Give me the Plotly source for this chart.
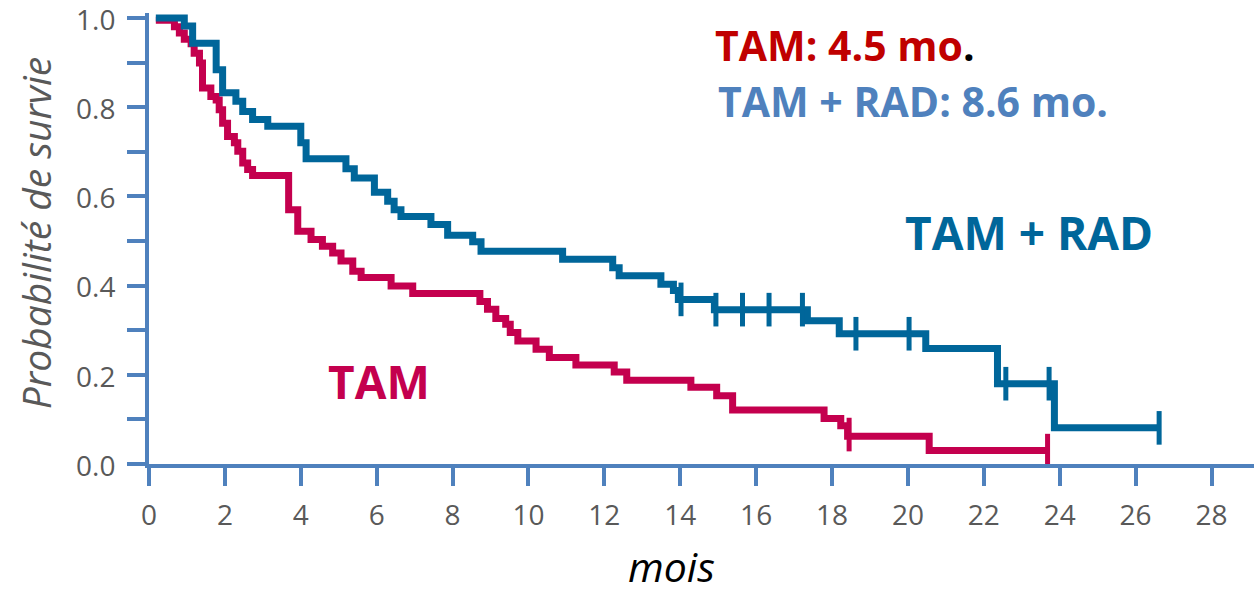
import plotly.graph_objects as go

# ---- data ----
tam_t = [0.18, 0.67, 0.80, 0.93, 1.11, 1.19, 1.33, 1.41, 1.63, 1.77, 1.85, 1.94, 2.07, 2.25, 2.34,
         2.47, 2.60, 2.73, 3.68, 3.92, 4.27, 4.57, 4.84, 5.06, 5.37, 5.59, 6.38, 6.95, 8.72, 8.92,
         9.14, 9.40, 9.52, 9.72, 10.20, 10.55, 11.25, 12.26, 12.59, 14.28, 14.96, 15.38, 17.79,
         18.23, 18.41, 20.56, 23.68]
tam_s = [0.995, 0.980, 0.966, 0.952, 0.942, 0.921, 0.899, 0.843, 0.824, 0.816, 0.794, 0.764, 0.734,
         0.720, 0.701, 0.675, 0.660, 0.647, 0.570, 0.522, 0.503, 0.488, 0.473, 0.455, 0.432, 0.418,
         0.399, 0.382, 0.364, 0.347, 0.326, 0.313, 0.295, 0.276, 0.257, 0.239, 0.222, 0.206, 0.188,
         0.172, 0.153, 0.121, 0.102, 0.086, 0.062, 0.030, 0.030]
tam_cens_t = [18.45, 23.68]
tam_cens_s = [0.066, 0.030]

rad_t = [0.18, 0.93, 1.15, 1.77, 1.94, 2.29, 2.47, 2.73, 3.13, 4.00, 4.14, 5.19, 5.41, 5.94, 6.29,
         6.46, 6.64, 7.43, 7.87, 8.53, 8.75, 10.90, 12.22, 12.39, 13.49, 13.82, 13.95, 14.90,
         17.35, 18.19, 20.47, 22.36, 23.86, 26.62]
rad_s = [1.000, 0.982, 0.943, 0.884, 0.832, 0.813, 0.790, 0.772, 0.757, 0.720, 0.684, 0.662, 0.641,
         0.609, 0.589, 0.570, 0.555, 0.537, 0.513, 0.498, 0.477, 0.459, 0.440, 0.422, 0.403, 0.389,
         0.369, 0.346, 0.321, 0.292, 0.259, 0.180, 0.081, 0.081]
rad_cens_t = [14.02, 14.94, 15.64, 16.34, 17.22, 18.63, 20.03, 22.58, 23.72, 26.62]
rad_cens_s = [0.369, 0.346, 0.346, 0.346, 0.346, 0.292, 0.292, 0.180, 0.180, 0.081]

x_ticks = list(range(0, 29, 2))
y_ticks = [0.0, 0.1, 0.2, 0.3, 0.4, 0.5, 0.6, 0.7, 0.8, 0.9, 1.0]
y_ticktext = ["0.0", "", "0.2", "", "0.4", "", "0.6", "", "0.8", "", "1.0"]

RED = "#c4004e"
BLUE = "#00669a"
AXIS = "#4f81bd"
GRAY = "#595959"
FONT = "Open Sans"

fig = go.Figure()
fig.add_trace(go.Scatter(x=tam_t, y=tam_s, mode="lines", line=dict(color=RED, width=7, shape="hv"),
                         showlegend=False, hoverinfo="skip"))
fig.add_trace(go.Scatter(x=rad_t, y=rad_s, mode="lines", line=dict(color=BLUE, width=7, shape="hv"),
                         showlegend=False, hoverinfo="skip"))
fig.add_trace(go.Scatter(x=tam_cens_t, y=tam_cens_s, mode="markers",
                         marker=dict(symbol="line-ns", size=24, line=dict(color=RED, width=5)),
                         showlegend=False, hoverinfo="skip", cliponaxis=False))
fig.add_trace(go.Scatter(x=rad_cens_t, y=rad_cens_s, mode="markers",
                         marker=dict(symbol="line-ns", size=24, line=dict(color=BLUE, width=5)),
                         showlegend=False, hoverinfo="skip", cliponaxis=False))

fig.update_xaxes(range=[0, 29.12], tickvals=x_ticks, ticktext=[str(v) for v in x_ticks],
                 showline=True, linecolor=AXIS, linewidth=4, ticks="outside", ticklen=18,
                 tickwidth=4, tickcolor=AXIS, showgrid=False, zeroline=False, automargin=False,
                 ticklabeloverflow="allow",
                 tickfont=dict(family=FONT, size=28, color=GRAY), ticklabelstandoff=5)
fig.update_yaxes(range=[0, 1.011], tickvals=y_ticks, ticktext=y_ticktext,
                 showline=True, linecolor=AXIS, linewidth=4, ticks="outside", ticklen=18,
                 tickwidth=4, tickcolor=AXIS, showgrid=False, zeroline=False, automargin=False,
                 ticklabeloverflow="allow",
                 tickfont=dict(family=FONT, size=28, color=GRAY), ticklabelstandoff=6,
                 ticklabelshift=2)

annotations = [
    dict(x=-0.103, y=0.512, xref="paper", yref="paper", xanchor="center", yanchor="middle",
         text="<i>Probabilité de survie</i>",
         textangle=-90, showarrow=False, font=dict(family=FONT, size=39, color=GRAY)),
    dict(x=0.473, y=-0.226, xref="paper", yref="paper", xanchor="center", yanchor="middle",
         text="<i>mois</i>", borderpad=0,
         showarrow=False, font=dict(family=FONT, size=41, color="black")),
    dict(x=14.86, y=0.94, xref="x", yref="y", xanchor="left", yanchor="middle",
         text="<b>TAM: 4.5 mo</b><b><span style='color:black'>.</span></b>",
         showarrow=False, font=dict(family=FONT, size=41, color="#c00000")),
    dict(x=14.94, y=0.814, xref="x", yref="y", xanchor="left", yanchor="middle",
         text="<b>TAM + RAD: 8.6 mo.</b>",
         showarrow=False, font=dict(family=FONT, size=41, color=AXIS)),
    dict(x=23.19, y=0.521, xref="x", yref="y", xanchor="center", yanchor="middle",
         text="<b>TAM + RAD</b>", showarrow=False, font=dict(family=FONT, size=46, color=BLUE)),
    dict(x=6.06, y=0.186, xref="x", yref="y", xanchor="center", yanchor="middle",
         text="<b>TAM</b>", showarrow=False, font=dict(family=FONT, size=46, color=RED)),
]

fig.update_layout(width=1254, height=589, margin=dict(l=149, r=0, t=13, b=125),
                  paper_bgcolor="white", plot_bgcolor="white", annotations=annotations)

fig.write_html("out.html", config={"displayModeBar": False},
               post_script="document.body.style.margin='0';document.body.style.overflow='hidden';")
